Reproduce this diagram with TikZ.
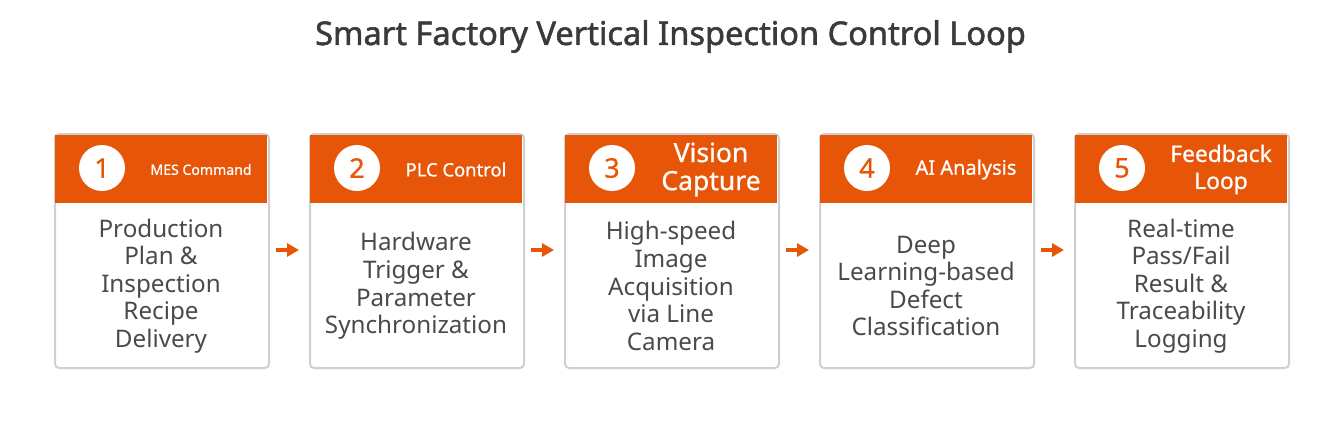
\documentclass[tikz,border=0pt]{standalone}
\usepackage{fontspec}
\setmainfont{Noto Sans}
\newfontfamily\titlefont[FakeBold=1.6]{Noto Sans}
\newfontfamily\hdrfont[FakeBold=0.8]{Noto Sans}
\usetikzlibrary{arrows.meta}
\definecolor{org}{HTML}{E65508}
\definecolor{txt}{HTML}{4A4A4A}
\definecolor{ttl}{HTML}{3A3A3A}
\definecolor{bdr}{HTML}{D0D0D0}
\tikzset{
  card/.style={draw=bdr, line width=2pt, fill=white, rounded corners=4pt, minimum width=214pt, minimum height=234pt, inner sep=0pt},
  hdr/.style={fill=org, minimum width=212pt, minimum height=68pt, inner sep=0pt},
  num/.style={circle, fill=white, minimum size=46pt, inner sep=0pt, text=org, font=\hdrfont\fontsize{27}{27}\selectfont},
  htxt/.style={text=white, align=center, inner sep=0pt},
  body/.style={text=txt, align=center, inner sep=0pt, font=\fontsize{24.2}{27.6}\selectfont},
  flow/.style={draw=org, line width=4pt, -{Triangle[length=12pt,width=13pt]}}
}
\begin{document}
\begin{tikzpicture}[x=1pt,y=-1pt]
\useasboundingbox (0,0) rectangle (1341,424);
\node[text=ttl, font=\titlefont\fontsize{32.6}{32.6}\selectfont] (title) at (670.5,36.5) {Smart Factory Vertical Inspection Control Loop};
\foreach \i/\h/\hs/\hl/\b in {
 1/{MES Command}/14.1/16/{Production\\Plan \&\\Inspection\\Recipe\\Delivery},
 2/{PLC Control}/18.4/21/{Hardware\\Trigger \&\\Parameter\\Synchronization},
 3/{Vision\\Capture}/26.5/28/{High-speed\\Image\\Acquisition\\via Line\\Camera},
 4/{AI Analysis}/20/22/{Deep\\Learning-based\\Defect\\Classification},
 5/{Feedback\\Loop}/22.8/27/{Real-time\\Pass/Fail\\Result \&\\Traceability\\Logging}}{
  \pgfmathsetmacro{\xl}{54+255*(\i-1)}
  \node[card, anchor=north west] (c\i) at (\xl,133) {};
  \node[hdr, anchor=north west] (h\i) at (\xl+1,135) {};
  \node[num] (n\i) at (\xl+48,168) {\i};
  \node[htxt, font=\hdrfont\fontsize{\hs}{\hl}\selectfont] (t\i) at (\xl+147,169.5) {\h};
  \node[body] (b\i) at (\xl+107,286) {\b};
}
\foreach \i/\j in {1/2,2/3,3/4,4/5}{
  \coordinate (s\i) at ([xshift=6pt]c\i.east |- 0,250);
  \coordinate (e\i) at ([xshift=-10pt]c\j.west |- 0,250);
  \draw[flow] (s\i) -- (e\i);
}
\end{tikzpicture}
\end{document}
